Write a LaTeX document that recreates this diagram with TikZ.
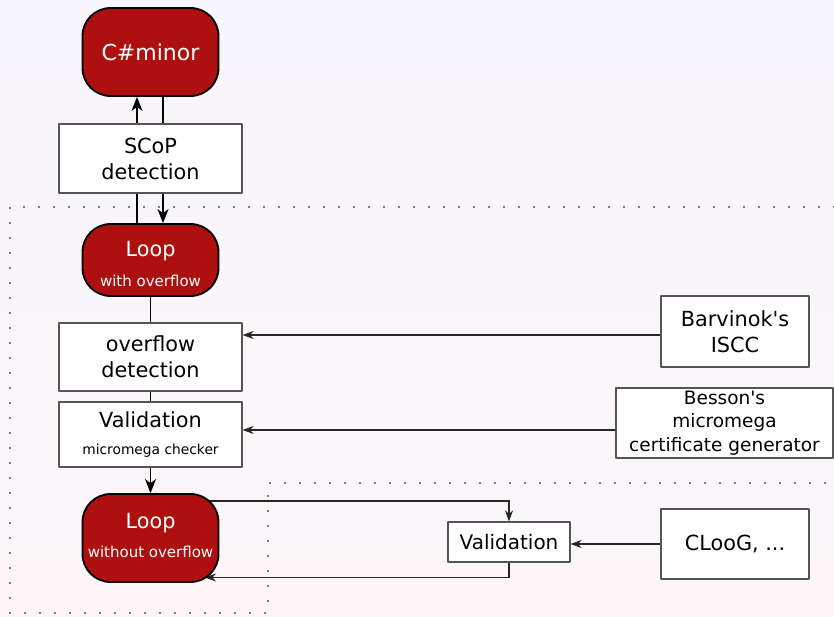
\documentclass[tikz,border=0pt]{standalone}
\usepackage{fontspec}
\setmainfont{DejaVu Sans}[Ligatures=TeXOff]
\usetikzlibrary{arrows.meta,backgrounds}
\definecolor{loopred}{RGB}{174,16,16}
\definecolor{bgtop}{RGB}{247,246,252}
\definecolor{bgbot}{RGB}{252,246,248}
\definecolor{boxline}{RGB}{85,85,85}
\newcommand{\bigtxt}{\fontsize{20.8}{26}\selectfont}
\newcommand{\subtxt}{\fontsize{15}{18}\selectfont}
\tikzset{
	redbox/.style={draw=black,line width=1.8pt,fill=loopred,text=white,rounded corners=28pt,
		minimum width=136pt,inner sep=0pt,align=center,font=\bigtxt},
	whitebox/.style={draw=boxline,line width=1.2pt,fill=white,inner sep=0pt,align=center,font=\bigtxt},
	region/.style={line width=1.6pt,line cap=round,dash pattern=on 0pt off 15pt},
	bigtip/.style={-{Stealth[length=14pt,width=11pt,inset=4pt]},line width=1.2pt},
	smalltip/.style={-{Stealth[length=11pt,width=8pt,inset=3.5pt]},line width=1.1pt,draw=black!85},
}
\begin{document}
\begin{tikzpicture}[x=1pt,y=-1pt,line join=round]
	\useasboundingbox (0,0) rectangle (834,617);
	\begin{scope}[on background layer]
		\shade[top color=bgtop,bottom color=bgbot] (0,0) rectangle (834,617);
	\end{scope}
	% dotted regions
	\draw[region] (834,207) -- (10,207) -- (10,613) -- (268,613) -- (268,483) -- (834,483);
	% main chain
	\node[redbox,minimum height=88pt,font=\fontsize{22}{26}\selectfont] (cminor) at (150.5,52) {C\#minor};
	\node[whitebox,minimum width=183pt,minimum height=69pt] (scop) at (150.5,158.5) {SCoP\\detection};
	\node[redbox,minimum height=72pt] (loopov) at (150.5,260) {\rule{0pt}{23pt}Loop\\[4pt]{\subtxt with overflow}};
	\node[whitebox,minimum width=183pt,minimum height=68pt] (ovdet) at (150.5,357) {overflow\\detection};
	\node[whitebox,minimum width=183pt,minimum height=65pt] (valid) at (150.5,434.5) {Validation\\[1pt]{\fontsize{13.8}{16}\selectfont micromega checker}};
	\node[redbox,minimum height=88pt] (loopno) at (150.5,538) {Loop\\[3pt]{\subtxt without overflow\rule[-6pt]{0pt}{6pt}}};
	% tools
	\node[whitebox,minimum width=148pt,minimum height=71pt] (barvinok) at (735,331.5) {Barvinok's\\ISCC};
	\node[whitebox,minimum width=217pt,minimum height=70pt,font=\fontsize{18.5}{23.5}\selectfont] (besson) at (724.5,423) {Besson's\\micromega\\certificate generator};
	\node[whitebox,minimum width=122pt,minimum height=40pt,font=\fontsize{20}{24}\selectfont] (cval) at (509,542) {Validation};
	\node[whitebox,minimum width=148pt,minimum height=70pt] (cloog) at (735,544) {CLooG, ...};
	\coordinate (loopout) at (208,501);
	\coordinate (backin) at (205,577.5);
	\begin{scope}[on background layer]
		\draw[bigtip] ([xshift=-13.5pt]scop.north) -- ([xshift=-13.5pt]cminor.south);
		\draw[line width=1.2pt] ([xshift=12.5pt]cminor.south) -- ([xshift=12.5pt]scop.north);
		\draw[bigtip] ([xshift=12.5pt]scop.south) -- ([xshift=12.5pt]loopov.north);
		\draw[line width=1.2pt] ([xshift=-13.5pt]loopov.north) -- ([xshift=-13.5pt]scop.south);
		\draw[line width=1.2pt] (loopov.south) -- (ovdet.north);
		\draw[line width=1.2pt] (ovdet.south) -- (valid.north);
		\draw[bigtip] (valid.south) -- (loopno.north);
		\draw[smalltip] ([yshift=-3.5pt]barvinok.west) -- ([yshift=-3.5pt]barvinok.west -| ovdet.east);
		\draw[smalltip] ([yshift=-7pt]besson.west) -- ([yshift=-7pt]besson.west -| valid.east);
		\draw[smalltip] (cloog.west) -- (cloog.west -| cval.east);
		\draw[smalltip] (loopout) -| (cval.north);
		\draw[smalltip] (cval.south) |- (backin);
	\end{scope}
\end{tikzpicture}
\end{document}
